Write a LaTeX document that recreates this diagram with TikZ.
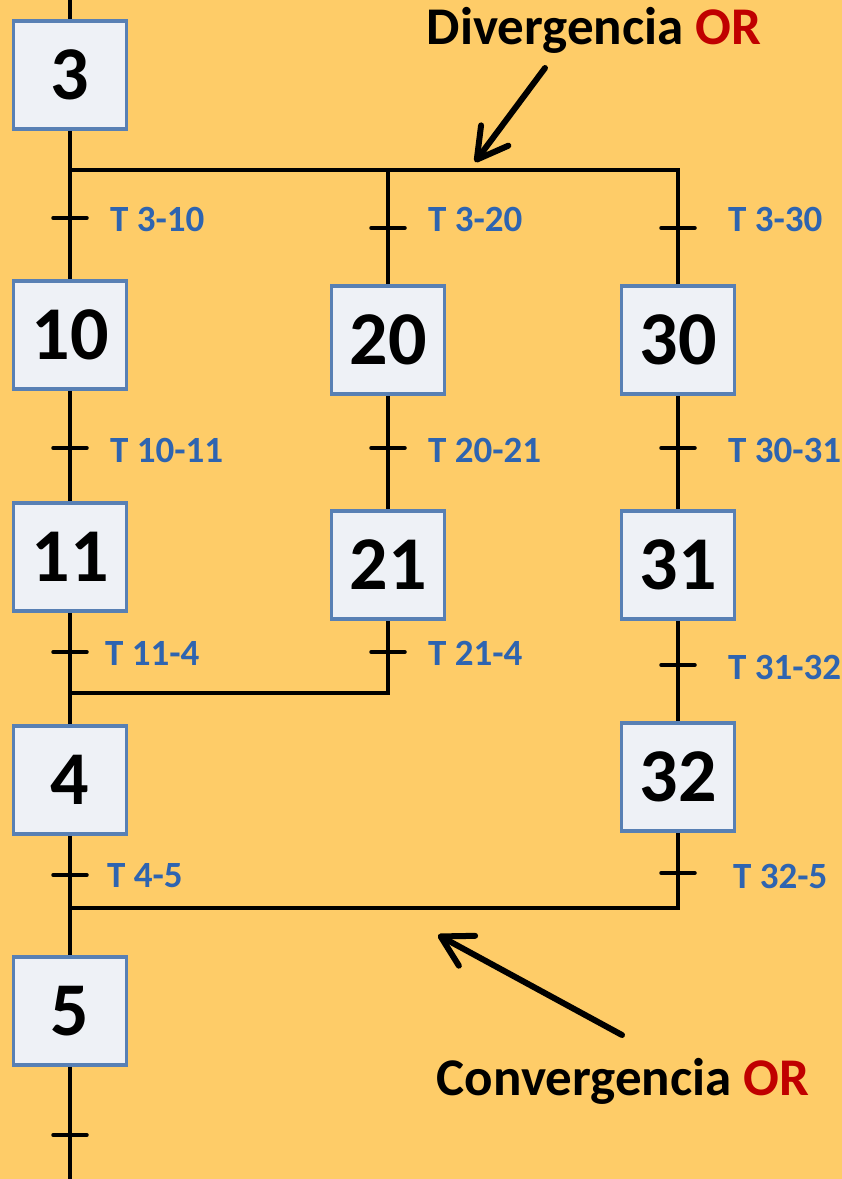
\documentclass[tikz,border=0pt]{standalone}
\usepackage{fontspec}
\setmainfont{Carlito}
\usetikzlibrary{arrows.meta}
\definecolor{bgc}{RGB}{254,204,104}
\definecolor{boxfill}{RGB}{238,241,246}
\definecolor{boxline}{RGB}{88,128,180}
\definecolor{tblue}{RGB}{46,100,176}
\definecolor{orred}{RGB}{192,0,0}
\begin{document}
\begin{tikzpicture}[x=1pt,y=-1pt,
  stepbox/.style={draw=boxline, fill=boxfill, line width=3.8pt, minimum width=113pt, minimum height=108pt, inner sep=0pt, font=\bfseries\fontsize{76}{76}\selectfont},
  wire/.style={line width=3.5pt, black},
  tickline/.style={line width=3.5pt, black, line cap=round},
  tlabel/.style={anchor=west, inner sep=0pt, text=tblue, font=\bfseries\fontsize{37}{37}\selectfont},
  title/.style={inner sep=0pt, font=\bfseries\fontsize{53}{53}\selectfont},
  bigarrow/.style={line width=6pt, line cap=round, line join=round, -{Straight Barb[length=30pt,width=34pt,line cap=round,line join=round]}}
]
\fill[bgc] (0,0) rectangle (842,1179);
\useasboundingbox (0,0) rectangle (842,1179);

% steps
\node[stepbox] (b3)  at (70,75)   {3};
\node[stepbox] (b10) at (70,335)  {10};
\node[stepbox] (b20) at (388,340) {20};
\node[stepbox] (b30) at (678,340) {30};
\node[stepbox] (b11) at (70,557)  {11};
\node[stepbox] (b21) at (388,565) {21};
\node[stepbox] (b31) at (678,565) {31};
\node[stepbox] (b4)  at (70,780)  {4};
\node[stepbox] (b32) at (678,777) {32};
\node[stepbox] (b5)  at (70,1011) {5};

% coordinates
\coordinate (top) at (70,0);
\coordinate (bot) at (70,1179);
\coordinate (d1) at (70,170);
\coordinate (d2) at (388,170);
\coordinate (d3) at (678,170);
\coordinate (c1) at (70,693);
\coordinate (c2) at (388,693);
\coordinate (c3) at (70,908);
\coordinate (c4) at (678,908);

% wires
\draw[wire] (top) -- (b3.north);
\draw[wire] (b3) -- (b10);
\draw[wire] (d1) -- (d3) -- (b30.north);
\draw[wire] (d2) -- (b20.north);
\draw[wire] (b10) -- (b11);
\draw[wire] (b20) -- (b21);
\draw[wire] (b30) -- (b31);
\draw[wire] (b11) -- (b4);
\draw[wire] (b21.south) -- (c2) -- (c1);
\draw[wire] (b31) -- (b32);
\draw[wire] (b4) -- (b5);
\draw[wire] (b32.south) -- (c4) -- (c3);
\draw[wire] (b5.south) -- (bot);

% transitions
\foreach \n/\x/\y in {t310/70/218, t320/388/228, t330/678/228,
  t1011/70/448, t2021/388/448, t3031/678/448,
  t114/70/652, t214/388/652, t3132/678/665,
  t45/70/875, t325/678/873, tend/70/1135}{
  \coordinate (\n) at (\x,\y);
  \draw[tickline] ([xshift=-17pt]\n) -- ([xshift=17pt]\n);
}

% transition labels
\node[tlabel] (l310)  at (110,219) {T 3-10};
\node[tlabel] (l320)  at (428,219) {T 3-20};
\node[tlabel] (l330)  at (728,219) {T 3-30};
\node[tlabel] (l1011) at (110,450) {T 10-11};
\node[tlabel] (l2021) at (428,450) {T 20-21};
\node[tlabel] (l3031) at (728,450) {T 30-31};
\node[tlabel] (l114)  at (105,653) {T 11-4};
\node[tlabel] (l214)  at (428,653) {T 21-4};
\node[tlabel] (l3132) at (728,667) {T 31-32};
\node[tlabel] (l45)   at (107,876) {T 4-5};
\node[tlabel] (l325)  at (733,876) {T 32-5};

% titles
\node[title] (div) at (594,30) {Divergencia \textcolor{orred}{OR}};
\node[title] (conv) at (623,1081) {Convergencia \textcolor{orred}{OR}};

% arrows
\coordinate (a1s) at (545,68);
\coordinate (a1e) at (475,162);
\coordinate (a2s) at (622,1035);
\coordinate (a2e) at (438,935);
\draw[bigarrow] (a1s) -- (a1e);
\draw[bigarrow] (a2s) -- (a2e);
\end{tikzpicture}
\end{document}
